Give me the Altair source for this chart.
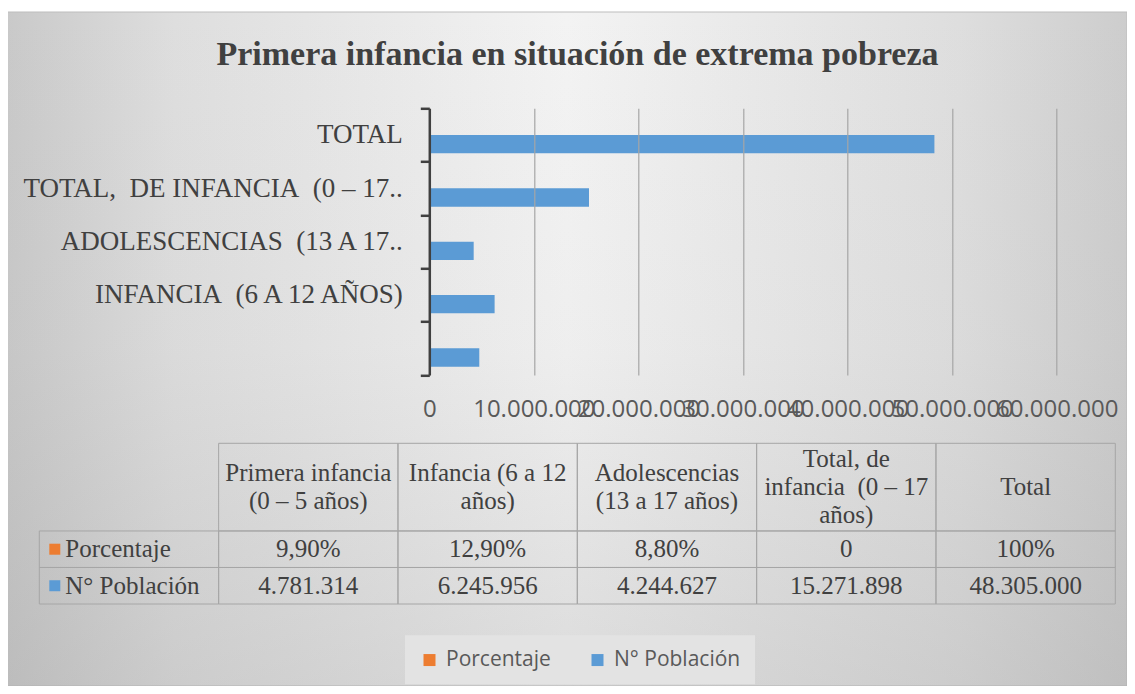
import altair as alt
import pandas as pd

# ---------------- data ----------------
categories = [
    "Primera infancia (0 – 5 años)",
    "Infancia (6 a 12 años)",
    "Adolescencias (13 a 17 años)",
    "Total, de infancia (0 – 17 años)",
    "Total",
]
axis_labels = [
    "",
    "INFANCIA\u00a0 (6 A 12 AÑOS)",
    "ADOLESCENCIAS\u00a0 (13 A 17..",
    "TOTAL,\u00a0 DE INFANCIA\u00a0 (0 – 17..",
    "TOTAL",
]
header_labels = [
    "Primera infancia\n(0 – 5 años)",
    "Infancia (6 a 12\naños)",
    "Adolescencias\n(13 a 17 años)",
    "Total, de\ninfancia\u00a0 (0 – 17\naños)",
    "Total",
]
series = ["Porcentaje", "N° Población"]
porcentaje = [0.099, 0.129, 0.088, 0, 1.0]
porcentaje_text = ["9,90%", "12,90%", "8,80%", "0", "100%"]
poblacion = [4781314, 6245956, 4244627, 15271898, 48305000]
poblacion_text = ["4.781.314", "6.245.956", "4.244.627", "15.271.898", "48.305.000"]
x_ticks = [0, 10000000, 20000000, 30000000, 40000000, 50000000, 60000000]
colors = ["#ED7D31", "#5B9BD5"]
title_text = "Primera infancia en situación de extrema pobreza"

# ---------------- layout constants ----------------
W, H = 627.4, 266.7
PAD = {"left": 421.3, "top": 100.3, "right": 70.3, "bottom": 311}
SERIF = "Liberation Serif"
SANS = "Open Sans"
TXT = "#404040"
HEADER_UNITS = 2.4          # header row height, in data-row units
TABLE_TOP, TABLE_BOTTOM = 335, 495.7
UNIT_PX = (TABLE_BOTTOM - TABLE_TOP) / (HEADER_UNITS + 2)
LINE_PX = 28
LINE_UNITS = LINE_PX / UNIT_PX

# ---------------- tables built from the arrays ----------------
bar_rows = []
for s, vals in zip(series, [porcentaje, poblacion]):
    for c, v in zip(categories, vals):
        bar_rows.append({"categoria": c, "serie": s, "valor": v})
bars_df = pd.DataFrame(bar_rows)

HDR = "__rowhdr"
col_domain = [HDR] + categories

cells = []
for c in categories:
    cells.append({"col": c, "y0": 0.0, "y1": HEADER_UNITS, "text": "", "kind": "header", "serie": ""})
for r, (s, texts) in enumerate(zip(series, [porcentaje_text, poblacion_text])):
    y0 = HEADER_UNITS + r
    cells.append({"col": HDR, "y0": y0, "y1": y0 + 1, "text": s, "kind": "rowhdr", "serie": s})
    for c, t in zip(categories, texts):
        cells.append({"col": c, "y0": y0, "y1": y0 + 1, "text": t, "kind": "value", "serie": s})
cells_df = pd.DataFrame(cells)
cells_df["ym"] = (cells_df["y0"] + cells_df["y1"]) / 2

hlines = []
for c, h in zip(categories, header_labels):
    parts = h.split("\n")
    n = len(parts)
    for i, p in enumerate(parts):
        hlines.append({"col": c, "text": p, "yl": HEADER_UNITS / 2 + (i - (n - 1) / 2) * LINE_UNITS})
hlines_df = pd.DataFrame(hlines)

# ---------------- chart ----------------
color_scale = alt.Scale(domain=series, range=colors)

label_expr = ""
for c, l in zip(categories, axis_labels):
    label_expr += f"datum.value === '{c}' ? '{l}' : "
label_expr += "''"

bg = alt.Chart(pd.DataFrame({"k": [0]})).mark_rect(
    fill=alt.LinearGradient(
        gradient="linear", x1=0, y1=0, x2=1, y2=0,
        stops=[
            alt.GradientStop(color="#c9c9c9", offset=0),
            alt.GradientStop(color="#dedede", offset=0.15),
            alt.GradientStop(color="#f3f3f3", offset=0.5),
            alt.GradientStop(color="#dedede", offset=0.85),
            alt.GradientStop(color="#cdcdcd", offset=1),
        ],
    ),
    stroke="#bdbdbd", strokeWidth=1,
).encode(x=alt.value(-422.3), x2=alt.value(697.7), y=alt.value(-96.3), y2=alt.value(577.7))

shade = alt.Chart(pd.DataFrame({"k": [0]})).mark_rect(
    fill=alt.LinearGradient(
        gradient="linear", x1=0, y1=0, x2=0, y2=1,
        stops=[
            alt.GradientStop(color="rgba(150,150,150,0)", offset=0),
            alt.GradientStop(color="rgba(150,150,150,0.05)", offset=0.5),
            alt.GradientStop(color="rgba(150,150,150,0.25)", offset=1),
        ],
    ),
).encode(x=alt.value(-422.3), x2=alt.value(697.7), y=alt.value(-96.3), y2=alt.value(577.7))

bars = alt.Chart(bars_df).mark_bar().encode(
    x=alt.X(
        "valor:Q",
        scale=alt.Scale(domain=[0, 60000000], nice=False, zero=True),
        axis=alt.Axis(
            values=x_ticks, title=None,
            labelExpr="join(split(format(datum.value, ','), ','), '.')",
            labelFont=SANS, labelFontSize=24, labelColor="#595959", labelPadding=22,
            labelOverlap=False, labelFlush=False,
            domain=False, ticks=False, grid=True, gridColor="#a6a6a6", gridWidth=1.2,
            zindex=1,
        ),
    ),
    y=alt.Y(
        "categoria:N", sort=categories[::-1],
        scale=alt.Scale(paddingInner=0, paddingOuter=0),
        axis=alt.Axis(
            title=None, labelExpr=label_expr,
            labelFont=SERIF, labelFontSize=27, labelColor=TXT, labelPadding=18, labelLimit=600,
            labelOverlap=False,
            domainColor="#404040", domainWidth=2.5, tickColor="#404040", tickWidth=2.5, tickSize=9,
            tickBand="extent", grid=False, zindex=1,
        ),
    ),
    yOffset=alt.YOffset("serie:N", sort=series, scale=alt.Scale(paddingInner=0, paddingOuter=0.456)),
    color=alt.Color(
        "serie:N", scale=color_scale,
        legend=alt.Legend(
            title=None, orient="none", legendX=-24.3, legendY=527, direction="horizontal",
            symbolType="square", symbolSize=144, symbolStrokeWidth=0,
            labelFont=SANS, labelFontSize=21, labelColor="#595959", labelOffset=6,
            columnPadding=36, padding=14, fillColor="#e3e3e3",
        ),
    ),
)

tx = alt.Scale(type="band", domain=col_domain, range=[-390, 686], paddingInner=0, paddingOuter=0)
ty = alt.Scale(type="linear", domain=[0, HEADER_UNITS + 2], range=[TABLE_TOP, TABLE_BOTTOM], nice=False, zero=False)

base = alt.Chart(cells_df)
cell_rects = base.mark_rect(fill="transparent", stroke="#a6a6a6", strokeWidth=1).encode(
    x=alt.X("col:N", scale=tx, axis=None),
    y=alt.Y("y0:Q", scale=ty, axis=None),
    y2="y1:Q",
)
header_text = alt.Chart(hlines_df).mark_text(
    font=SERIF, fontSize=25, baseline="middle", align="center", color=TXT
).encode(x=alt.X("col:N", scale=tx, axis=None), y=alt.Y("yl:Q", scale=ty, axis=None), text="text:N")
value_text = base.transform_filter("datum.kind === 'value'").mark_text(
    font=SERIF, fontSize=25, baseline="middle", align="center", color=TXT
).encode(x=alt.X("col:N", scale=tx, axis=None), y=alt.Y("ym:Q", scale=ty, axis=None), text="text:N")
row_text = base.transform_filter("datum.kind === 'rowhdr'").mark_text(
    font=SERIF, fontSize=25, baseline="middle", align="left", dx=26, color=TXT
).encode(x=alt.X("col:N", scale=tx, axis=None, bandPosition=0), y=alt.Y("ym:Q", scale=ty, axis=None), text="text:N")
row_keys = base.transform_filter("datum.kind === 'rowhdr'").mark_square(size=121, xOffset=15.5, opacity=1).encode(
    x=alt.X("col:N", scale=tx, axis=None, bandPosition=0),
    y=alt.Y("ym:Q", scale=ty, axis=None),
    color=alt.Color("serie:N", scale=color_scale, legend=None),
)
table = alt.layer(cell_rects, header_text, value_text, row_text, row_keys)

chart = alt.layer(bg, shade, bars, table).resolve_scale(x="independent", y="independent").properties(
    width=W, height=H, padding=PAD, autosize="none",
    title=alt.TitleParams(
        text=title_text, font=SERIF, fontSize=34, fontWeight="bold", color=TXT,
        anchor="middle", frame="group", dx=-165.5, offset=-87.5, baseline="alphabetic",
    ),
).configure_view(stroke=None).configure(background="white")

chart.save("out.html", embed_options={"renderer": "svg", "actions": False})
